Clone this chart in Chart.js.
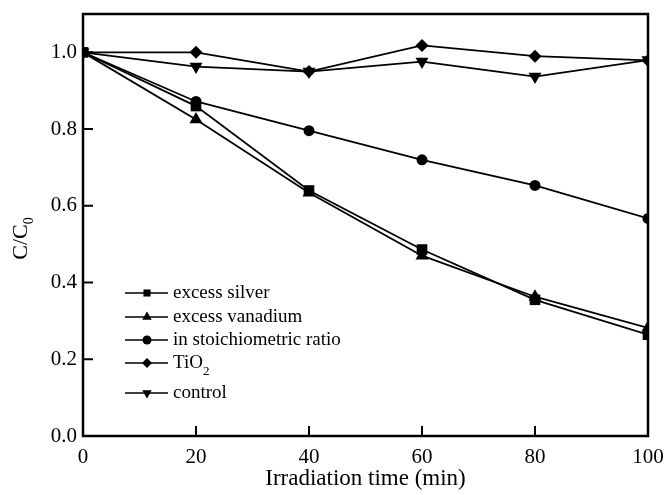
<!DOCTYPE html>
<html>
<head>
<meta charset="utf-8">
<script src="https://cdn.jsdelivr.net/npm/chart.js@4"></script>
<style>
  body { margin: 0; background: #fff; }
  #wrap { width: 665px; height: 495px; }
</style>
</head>
<body>
<div id="wrap"><canvas id="photo"></canvas></div>
<script>
// irradiation time (min)
var times = [0, 20, 40, 60, 80, 100]

var silver = [1.0, 0.86, 0.64, 0.486, 0.355, 0.264]
var vanadium = [1.0, 0.825, 0.634, 0.47, 0.363, 0.282]
var stoich = [1.0, 0.872, 0.796, 0.72, 0.653, 0.567]
var tio2 = [1.0, 1.0, 0.95, 1.018, 0.99, 0.979]
var control = [1.0, 0.963, 0.95, 0.976, 0.937, 0.98]

var names = ['excess silver', 'excess vanadium', 'in stoichiometric ratio', 'TiO2', 'control']
var yTicks = [0, 0.2, 0.4, 0.6, 0.8, 1.0]
var xTicks = [0, 20, 40, 60, 80, 100]

var serif = '"Liberation Serif", "Times New Roman", serif'

function pts(vals) {
  return vals.map(function(v, i) { return {x: times[i], y: v} })
}

function makeSet(label, vals, style, r, rot) {
  return {
    label: label,
    data: pts(vals),
    borderColor: '#000',
    backgroundColor: '#000',
    borderWidth: 1.8,
    pointStyle: style,
    rotation: rot || 0,
    pointRadius: r,
    pointBorderWidth: 0,
    fill: false,
    tension: 0,
    clip: 0
  }
}

// frame, inward ticks, legend and y title
var decor = {
  id: 'decor',
  afterDraw: function(chart) {
    var ctx = chart.ctx
    var a = chart.chartArea
    var xs = chart.scales.x, ys = chart.scales.y
    ctx.save()
    ctx.strokeStyle = '#000'
    ctx.lineWidth = 2.5
    ctx.strokeRect(a.left, a.top, a.right - a.left, a.bottom - a.top)

    ctx.lineWidth = 2
    ctx.beginPath()
    xTicks.forEach(function(t) {
      if (t == 0 || t == 100) return
      var px = xs.getPixelForValue(t)
      ctx.moveTo(px, a.bottom)
      ctx.lineTo(px, a.bottom - 10)
    })
    yTicks.forEach(function(t) {
      if (t == 0) return
      var py = ys.getPixelForValue(t)
      ctx.moveTo(a.left, py)
      ctx.lineTo(a.left + 10, py)
    })
    ctx.stroke()

    // legend
    var rows = [293, 317, 340, 363, 393]
    var lr = [5, 5.5, 4.5, 5, 5.5]
    ctx.textBaseline = 'middle'
    ctx.fillStyle = '#000'
    chart.data.datasets.forEach(function(ds, i) {
      var y = rows[i]
      var x0 = a.left + 42
      ctx.lineWidth = 1.6
      ctx.beginPath()
      ctx.moveTo(x0, y)
      ctx.lineTo(x0 + 43, y)
      ctx.stroke()
      Chart.helpers.drawPoint(ctx, {pointStyle: ds.pointStyle, rotation: ds.rotation, radius: lr[i], borderWidth: 0}, x0 + 22, y)
      ctx.fillStyle = '#000'
      ctx.font = '19px ' + serif
      if (ds.label == 'TiO2') {
        ctx.fillText('TiO', x0 + 48, y)
        var w = ctx.measureText('TiO').width
        ctx.font = '13px ' + serif
        ctx.fillText('2', x0 + 48 + w, y + 9)
      } else {
        ctx.fillText(ds.label, x0 + 48, y)
      }
    })

    // y title C/C0
    ctx.translate(21, 242)
    ctx.rotate(-Math.PI / 2)
    ctx.font = '22px ' + serif
    ctx.textAlign = 'center'
    ctx.textBaseline = 'middle'
    ctx.fillText('C/C', 0, 0)
    var tw = ctx.measureText('C/C').width
    ctx.font = '14px ' + serif
    ctx.textAlign = 'left'
    ctx.fillText('0', tw / 2, 8)
    ctx.restore()
  }
}

var ctx = document.getElementById('photo')

new Chart(ctx, {
  type: 'line',
  data: {
    datasets: [
      makeSet(names[0], silver, 'rect', 7.5),
      makeSet(names[1], vanadium, 'triangle', 7.5),
      makeSet(names[2], stoich, 'circle', 5.5),
      makeSet(names[3], tio2, 'rectRot', 6.5),
      makeSet(names[4], control, 'triangle', 7.5, 180)
    ]
  },
  options: {
    responsive: true,
    maintainAspectRatio: false,
    animation: false,
    layout: { padding: { top: 14, right: 17, left: 0, bottom: 0 } },
    plugins: {
      legend: { display: false },
      tooltip: { enabled: false }
    },
    scales: {
      x: {
        type: 'linear',
        min: 0,
        max: 100,
        afterBuildTicks: function(s) { s.ticks = xTicks.map(function(v) { return {value: v} }) },
        afterFit: function(s) { s.height = 59 },
        grid: { display: false },
        border: { display: false },
        ticks: { color: '#000', font: { family: serif, size: 21 }, padding: 1, maxRotation: 0 },
        title: { display: true, text: 'Irradiation time (min)', color: '#000', font: { family: serif, size: 23 }, padding: { top: 0, bottom: 2 } }
      },
      y: {
        min: 0,
        max: 1.1,
        afterBuildTicks: function(s) { s.ticks = yTicks.map(function(v) { return {value: v} }) },
        afterFit: function(s) { s.width = 83 },
        grid: { display: false },
        border: { display: false },
        ticks: { color: '#000', font: { family: serif, size: 21 }, padding: -2,
          callback: function(v) { return v.toFixed(1) } }
      }
    }
  },
  plugins: [decor]
})
</script>
</body>
</html>
